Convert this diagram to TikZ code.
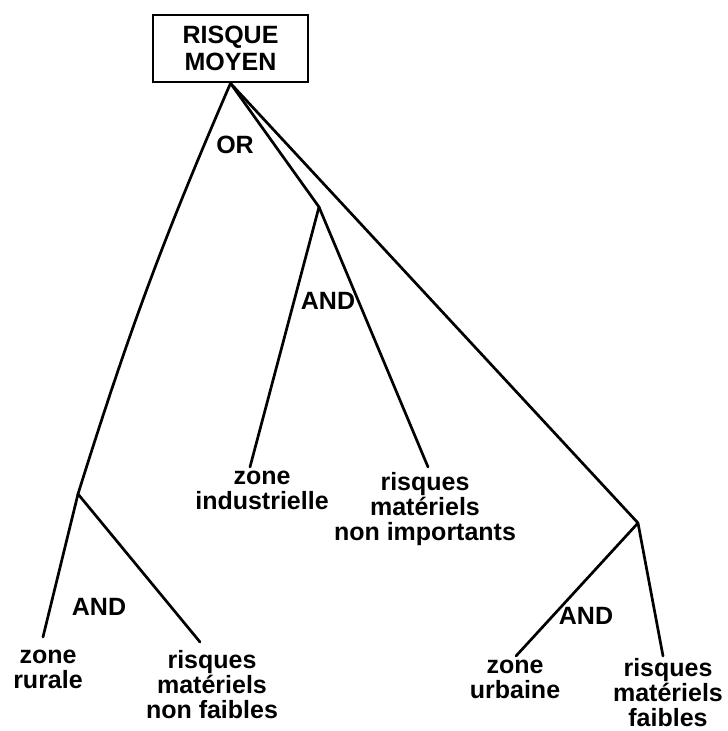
\documentclass[tikz,border=0pt]{standalone}
\usepackage{fontspec}
\setmainfont{Liberation Sans}
\usetikzlibrary{positioning}
\tikzset{
  goalbox/.style={
    rectangle, draw, line width=2.6pt,
    minimum width=155pt, minimum height=67pt,
    inner sep=0pt, align=center,
    font=\fontsize{25}{27}\selectfont\bfseries
  },
  leaf/.style={anchor=north, inner sep=0pt, align=center,
    font=\fontsize{25}{25}\selectfont\bfseries, execute at begin node=\strut},
  gatelabel/.style={inner sep=0pt, font=\fontsize{25}{25}\selectfont\bfseries},
  branch/.style={line width=2.7pt, line cap=round, line join=round},
}

\begin{document}
\begin{tikzpicture}[x=1pt, y=-1pt]
  \useasboundingbox (0,0) rectangle (728,731);

  % Goal
  \node[goalbox] (goal) at (230.5,48.5) {RISQUE\\MOYEN};

  % Junctions and line ends
  \coordinate (jL) at (78,494);
  \coordinate (jM) at (319,207);
  \coordinate (jR) at (638,523);
  \coordinate (eInd) at (250,467);
  \coordinate (eImp) at (428,467);
  \coordinate (eRur) at (43,637);
  \coordinate (eNfa) at (200,642);
  \coordinate (eUrb) at (516,656);
  \coordinate (eFai) at (663,656);

  % Leaves
  \node[leaf] (ind) at (262,470.5) {zone\\industrielle};
  \node[leaf] (imp) at (425,472.5) {risques\\matériels\\non importants};
  \node[leaf] (rur) at (48,649.5)  {zone\\rurale};
  \node[leaf] (nfa) at (212,650.5) {risques\\matériels\\non faibles};
  \node[leaf] (urb) at (515,659.5) {zone\\urbaine};
  \node[leaf] (fai) at (668,658)   {risques\\matériels\\faibles};

  % Gates
  \node[gatelabel] (orG)   at (235,145) {OR};
  \node[gatelabel] (andM)  at (328,301) {AND};
  \node[gatelabel] (andL)  at (99,607)  {AND};
  \node[gatelabel] (andR)  at (586,616) {AND};

  % Branches
  \draw[branch] (goal.south) to[bend right=3] (jL);
  \draw[branch] (goal.south) -- (jM);
  \draw[branch] (goal.south) -- (jR);
  \foreach \a/\b in {jM/eInd, jM/eImp, jL/eRur, jL/eNfa, jR/eUrb, jR/eFai}{
    \draw[branch] (\a) -- (\b);
  }

\end{tikzpicture}
\end{document}
